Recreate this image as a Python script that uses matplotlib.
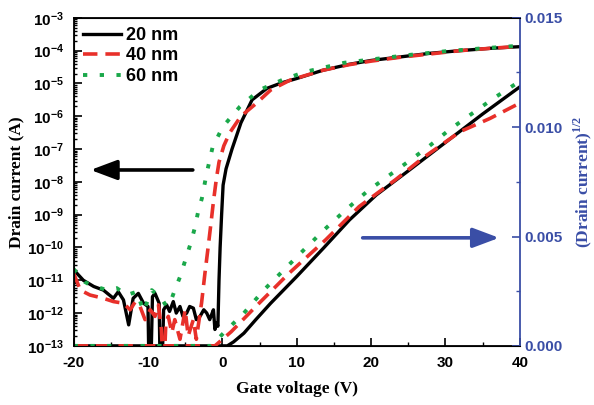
import numpy as np
import matplotlib
matplotlib.use('Agg')
import matplotlib.pyplot as plt
from matplotlib.ticker import LogLocator, FuncFormatter, MultipleLocator, NullFormatter

plt.rcParams['font.family'] = 'Liberation Sans'
plt.rcParams['font.weight'] = 'bold'
plt.rcParams['axes.unicode_minus'] = False
plt.rcParams['mathtext.fontset'] = 'custom'
plt.rcParams['mathtext.rm'] = 'Liberation Sans:bold'
plt.rcParams['mathtext.bf'] = 'Liberation Sans:bold'

# log10 of drain current (A) vs gate voltage (V)
v20 = [-20, -18.7, -17.3, -16.0, -14.65, -14.0, -13.3, -12.6, -12.0, -11.3, -10.6, -10.0,
       -9.85, -9.65, -9.4, -9.06, -8.5, -8.35, -8.15, -7.9, -7.5, -7.1, -6.6, -6.2, -5.7,
       -5.3, -4.8, -4.4, -3.9, -3.5, -3.0, -2.5, -2.1, -1.7, -1.45, -1.2, -1.0, -0.75, -0.6,
       -0.45, -0.3, -0.1, 0.1, 0.5, 1.3, 2.5, 4.0, 6.0, 8.0, 10.0, 13.5, 17.0, 20.0, 24.0,
       28.0, 32.0, 36.0, 40.0]
log20 = [-10.68, -11.0, -11.19, -11.3, -11.55, -11.35, -11.6, -12.36, -11.55, -11.4, -11.7, -11.8,
         -14, -14, -11.5, -11.4, -11.7, -14, -14, -11.9, -11.75, -11.95, -11.65, -12.0, -11.8,
         -12.1, -12.0, -11.8, -11.85, -12.2, -12.1, -11.9, -12.0, -12.2, -12.05, -11.9, -12.5, -12.3, -12.4,
         -11.0, -10.0, -9.0, -8.1, -7.6, -7.0, -6.2, -5.5, -5.15, -4.98, -4.85, -4.6, -4.42, -4.3, -4.19,
         -4.08, -4.0, -3.93, -3.88]

v40 = [-20, -19.1, -17.8, -16.0, -14.65, -13.3, -12.4, -11.7, -11.07, -10.4, -9.7, -9.06,
       -8.6, -8.2, -7.9, -7.6, -7.27, -6.8, -6.4, -5.7, -5.0, -4.6, -3.9, -3.5, -3.0, -2.8,
       -2.35, -1.9, -1.5, -1.2, -0.8, -0.45, 0.2, 1.0, 2.5, 4.6, 6.5, 9.1, 13.5, 17.0, 20.0,
       24.0, 28.0, 32.0, 36.0, 40.0]
log40 = [-10.79, -11.3, -11.45, -11.55, -11.65, -11.7, -11.9, -11.65, -11.8, -12.2, -11.9, -12.1,
         -11.75, -12.5, -14, -12.3, -12.1, -12.6, -12.2, -12.8, -11.9, -12.7, -12.2, -12.8, -12.0, -11.7,
         -10.8, -9.97, -9.2, -8.6, -7.9, -7.4, -6.9, -6.5, -6.0, -5.6, -5.2, -4.9, -4.6, -4.43, -4.32,
         -4.2, -4.1, -4.0, -3.93, -3.87]

v60 = [-20, -18.5, -17.8, -15.5, -14.2, -12.86, -11.5, -10.6, -9.5, -8.2, -7.5, -6.8, -6.4,
       -5.7, -5.0, -4.3, -3.7, -3.25, -2.75, -2.1, -1.3, 0.07, 2.35, 5.0, 8.1, 11.1, 16.4,
       20.0, 25.2, 30.0, 35.0, 40.0]
log60 = [-10.66, -11.05, -11.14, -11.3, -11.24, -11.45, -11.35, -11.95, -11.3, -11.55, -11.8, -11.55, -11.3,
         -10.9, -10.4, -9.9, -9.4, -8.9, -8.5, -7.73, -6.93, -6.32, -5.71, -5.2, -4.89, -4.65, -4.37,
         -4.27, -4.13, -4.02, -3.93, -3.85]

# (drain current)^1/2 on the right axis
sv20 = [-20, 0.67, 1.5, 2.9, 4.5, 6.5, 10.0, 13.6, 17.1, 20.7, 25.0, 30.0, 35.0, 40.0]
sq20 = [0, 0, 0.00018, 0.00058, 0.0012, 0.00195, 0.00317, 0.00447, 0.00576, 0.0069, 0.008, 0.0093, 0.0106, 0.01184]

sv40 = [-20, -1.0, 1.2, 4.5, 9.0, 13.9, 18.4, 23.3, 27.0, 32.0, 36.0, 40.0]
sq40 = [0, 0, 0.00065, 0.0018, 0.00333, 0.00485, 0.00637, 0.0076, 0.0086, 0.0098, 0.0104, 0.0111]

sv60 = [-20, -1.5, 0.2, 2.9, 5.6, 8.5, 11.2, 13.8, 16.5, 19.6, 24.5, 27.7, 30.6, 33.5, 36.4, 40.0]
sq60 = [0, 0, 0.0006, 0.0015, 0.00256, 0.00355, 0.00447, 0.00534, 0.00619, 0.0071, 0.0083, 0.0091,
        0.0099, 0.0106, 0.0113, 0.0121]

labels = ['20 nm', '40 nm', '60 nm']
blue = '#3a4ea6'
red = '#e8302a'
green = '#1aa84a'

fig = plt.figure(figsize=(5.94, 4.05), dpi=100)
ax = fig.add_axes([0.124, 0.146, 0.751, 0.81])
ax2 = ax.twinx()

styles = [dict(color='black', lw=2.4, ls='-'),
          dict(color=red, lw=2.6, dashes=(4, 2.2)),
          dict(color=green, lw=2.8, dashes=(1.1, 3.2))]

for v, lg, st, lab in zip([v20, v40, v60], [log20, log40, log60], styles, labels):
    ax.plot(v, 10.0 ** np.array(lg), label=lab, **st)
for v, s, st in zip([sv20, sv40, sv60], [sq20, sq40, sq60], styles):
    ax2.plot(v, s, **st)

ax.set_yscale('log')
ax.set_xlim(-20, 40)
ax.set_ylim(1e-13, 1e-3)
ax2.set_ylim(0, 0.015)

ax.yaxis.set_major_locator(LogLocator(base=10, numticks=20))
ax.yaxis.set_minor_locator(LogLocator(base=10, subs=np.arange(2, 10), numticks=20))
ax.yaxis.set_minor_formatter(NullFormatter())
ax.yaxis.set_major_formatter(FuncFormatter(lambda y, p: r'$\mathbf{10^{%d}}$' % round(np.log10(y))))
ax.xaxis.set_major_locator(MultipleLocator(10))
ax.xaxis.set_minor_locator(MultipleLocator(5))
ax.tick_params(axis='both', which='both', direction='in', labelsize=11)
ax.tick_params(which='major', length=6, width=1.2)
ax.tick_params(which='minor', length=3, width=1)
ax.tick_params(axis='y', which='minor', length=2.5)
ax.tick_params(axis='x', which='major', pad=7)
ax.tick_params(axis='y', which='major', pad=7)

ax2.yaxis.set_major_locator(MultipleLocator(0.005))
ax2.yaxis.set_minor_locator(MultipleLocator(0.0025))
ax2.yaxis.set_major_formatter(FuncFormatter(lambda y, p: '%.3f' % y))
ax2.tick_params(axis='y', which='both', direction='in', colors=blue, labelsize=11)
ax2.tick_params(which='major', length=6, width=1.2)
ax2.tick_params(which='minor', length=3, width=1)
ax2.spines['right'].set_color(blue)
ax2.spines['right'].set_linewidth(1.3)
for sp in ['left', 'top', 'bottom']:
    ax.spines[sp].set_linewidth(1.3)
ax.spines['right'].set_visible(False)

serif = dict(family='Liberation Serif', weight='bold', size=12.5)
ax.set_xlabel('Gate voltage (V)', labelpad=8, **serif)
ax.set_ylabel('Drain current (A)', labelpad=2, **serif)
ax2.set_ylabel(r'(Drain current)$^{\mathregular{1/2}}$', color=blue, labelpad=6, **serif)

ax.annotate('', xy=(-18.1, 2.3e-8), xytext=(-3.6, 2.3e-8),
            arrowprops=dict(arrowstyle='-|>,head_length=1.6,head_width=0.6', color='black', lw=2.6))
ax2.annotate('', xy=(37.6, 0.00494), xytext=(18.5, 0.00494),
             arrowprops=dict(arrowstyle='-|>,head_length=1.6,head_width=0.6', color=blue, lw=2.6))

ax.legend(loc='upper left', frameon=False, handlelength=2.1,
          borderaxespad=0.2, borderpad=0.3, labelspacing=0.2, handletextpad=0.3,
          prop=dict(weight='bold', size=13))

fig.savefig('out.png', dpi=100)
